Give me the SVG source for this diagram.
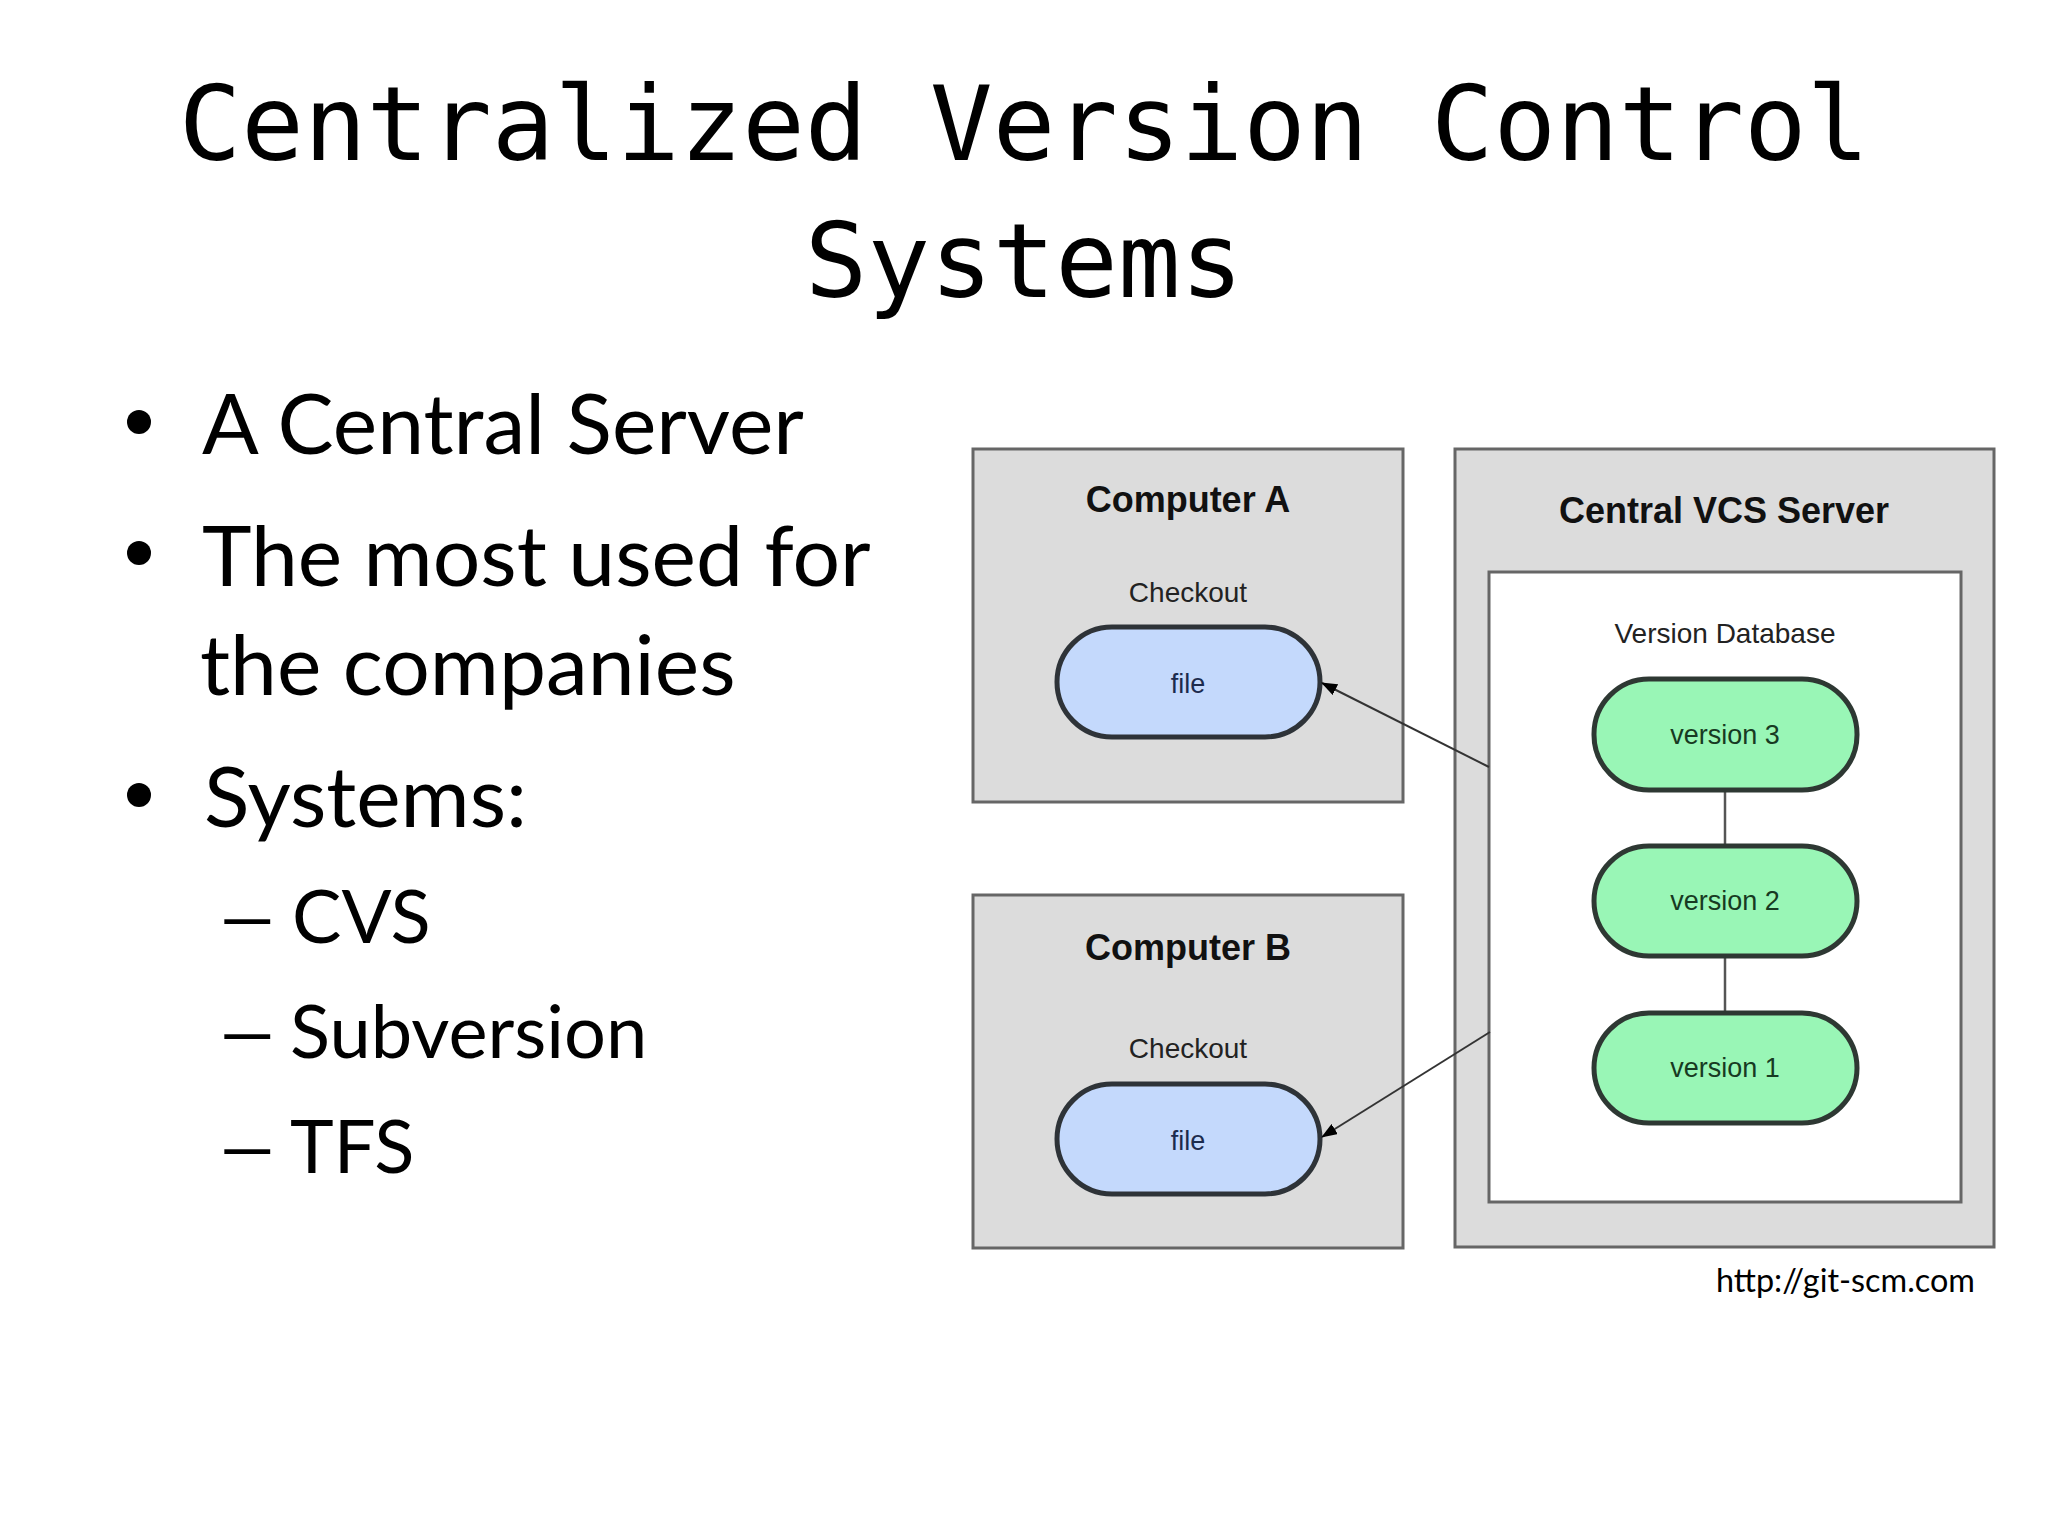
<svg xmlns="http://www.w3.org/2000/svg" width="2048" height="1536" viewBox="0 0 2048 1536">
<defs>
<style>
.title{font-family:"DejaVu Sans Mono",monospace;font-size:104px;fill:#000;text-anchor:middle}
.bul{font-family:Lato,"Open Sans",sans-serif;font-size:84px;fill:#000}
.sub{font-family:Lato,"Open Sans",sans-serif;font-size:74px;fill:#000}
.box{fill:#dcdcdc;stroke:#666;stroke-width:3}
.inner{fill:#fff;stroke:#666;stroke-width:3}
.h{font-family:"Liberation Sans",Arial,sans-serif;font-weight:bold;font-size:36px;fill:#111;text-anchor:middle}
.lbl{font-family:"Liberation Sans",Arial,sans-serif;font-size:28px;fill:#222;text-anchor:middle}
.filep{fill:#c4d9fc;stroke:#2e3338;stroke-width:5}
.verp{fill:#99f6b6;stroke:#2e3833;stroke-width:5}
.ft{font-family:"Liberation Sans",Arial,sans-serif;font-size:27px;fill:#1c2b4d;text-anchor:middle}
.vt{font-family:"Liberation Sans",Arial,sans-serif;font-size:27px;fill:#173a22;text-anchor:middle}
.conn{stroke:#333;stroke-width:2;fill:none}
.link{stroke:#555;stroke-width:2.5;fill:none}
.url{font-family:Lato,"Open Sans",sans-serif;font-size:32px;fill:#000}
</style>
<marker id="arr" viewBox="0 0 16 12" refX="15" refY="6" markerWidth="16" markerHeight="12" markerUnits="userSpaceOnUse" orient="auto">
<path d="M0,0 L16,6 L0,12 z" fill="#000"/>
</marker>
</defs>
<rect width="2048" height="1536" fill="#fff"/>
<g id="title">
<text class="title" x="1024" y="160">Centralized Version Control</text>
<text class="title" x="1024" y="297">Systems</text>
</g>
<g id="bullets">
<circle cx="139" cy="422" r="12" fill="#000"/>
<text class="bul" x="202" y="454">A Central Server</text>
<circle cx="139" cy="553" r="12" fill="#000"/>
<text class="bul" x="202" y="586">The most used for</text>
<text class="bul" x="200" y="695">the companies</text>
<circle cx="139" cy="795" r="12" fill="#000"/>
<text class="bul" x="204" y="827">Systems:</text>
<text class="sub" transform="translate(214,943) scale(1.55,1)">–</text>
<text class="sub" x="292" y="943">CVS</text>
<text class="sub" transform="translate(214,1058) scale(1.55,1)">–</text>
<text class="sub" x="290" y="1058">Subversion</text>
<text class="sub" transform="translate(214,1173) scale(1.55,1)">–</text>
<text class="sub" x="290" y="1173">TFS</text>
</g>
<g id="computerA">
<rect class="box" x="973" y="449" width="430" height="353"/>
<text class="h" x="1188" y="512">Computer A</text>
<text class="lbl" x="1188" y="602">Checkout</text>
<rect class="filep" x="1057" y="627" width="263" height="110" rx="55"/>
<text class="ft" x="1188" y="693">file</text>
</g>
<g id="computerB">
<rect class="box" x="973" y="895" width="430" height="353"/>
<text class="h" x="1188" y="960">Computer B</text>
<text class="lbl" x="1188" y="1058">Checkout</text>
<rect class="filep" x="1057" y="1084" width="263" height="110" rx="55"/>
<text class="ft" x="1188" y="1150">file</text>
</g>
<g id="server">
<rect class="box" x="1455" y="449" width="539" height="798"/>
<text class="h" x="1724" y="523">Central VCS Server</text>
<rect class="inner" x="1489" y="572" width="472" height="630"/>
<text class="lbl" x="1725" y="643">Version Database</text>
</g>
<g id="connectors">
<line class="link" x1="1725" y1="790" x2="1725" y2="846"/>
<line class="link" x1="1725" y1="956" x2="1725" y2="1013"/>
<line class="conn" x1="1489" y1="767" x2="1322" y2="683" marker-end="url(#arr)"/>
<line class="conn" x1="1490" y1="1032" x2="1322" y2="1137" marker-end="url(#arr)"/>
</g>
<g id="version3">
<rect class="verp" x="1594" y="679" width="263" height="111" rx="55"/>
<text class="vt" x="1725" y="744">version 3</text>
</g>
<g id="version2">
<rect class="verp" x="1594" y="846" width="263" height="110" rx="55"/>
<text class="vt" x="1725" y="910">version 2</text>
</g>
<g id="version1">
<rect class="verp" x="1594" y="1013" width="263" height="110" rx="55"/>
<text class="vt" x="1725" y="1077">version 1</text>
</g>
<text class="url" x="1716" y="1292" textLength="259" lengthAdjust="spacingAndGlyphs">http://git-scm.com</text>
</svg>
